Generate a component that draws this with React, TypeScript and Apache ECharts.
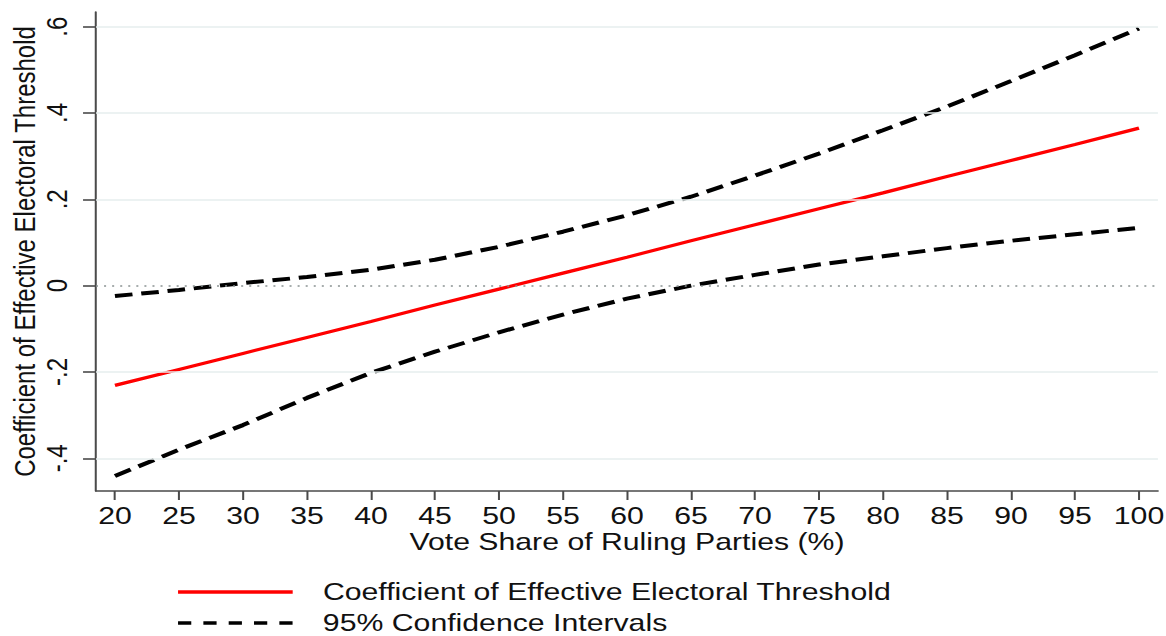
import React, { useEffect, useRef } from "react";
import * as echarts from "echarts";

// Vote share of ruling parties (%)
const voteShare = [20, 25, 30, 35, 40, 45, 50, 55, 60, 65, 70, 75, 80, 85, 90, 95, 100];
// Marginal effect (coefficient of effective electoral threshold)
const coefficient = [-0.231, -0.194, -0.157, -0.12, -0.083, -0.045, -0.008, 0.029, 0.066, 0.104, 0.141, 0.178, 0.215, 0.253, 0.29, 0.327, 0.365];
// 95% confidence bounds
const upperCI = [-0.024, -0.01, 0.006, 0.02, 0.037, 0.06, 0.09, 0.125, 0.163, 0.206, 0.255, 0.306, 0.36, 0.415, 0.474, 0.534, 0.596];
const lowerCI = [-0.441, -0.38, -0.323, -0.26, -0.202, -0.153, -0.108, -0.067, -0.03, 0.0, 0.025, 0.049, 0.068, 0.087, 0.104, 0.119, 0.134];

const xTicks = [20, 25, 30, 35, 40, 45, 50, 55, 60, 65, 70, 75, 80, 85, 90, 95, 100];
const yTicks = [-0.4, -0.2, 0, 0.2, 0.4, 0.6];
const gridValues = [-0.4, -0.2, 0.2, 0.4, 0.6];
const referenceValue = 0;

const COEF_NAME = "Coefficient of Effective Electoral Threshold";
const CI_NAME = "95% Confidence Intervals";

const STRETCH = 1.26;
const W = 925;
const H = 636;

const SOLID_ICON = "path://M0,0h91v3.5H0z";
const DASH_ICON =
  "path://M0,0h10.5v3.5h-10.5z M20.1,0h10.5v3.5h-10.5z M40.2,0h10.5v3.5h-10.5z M60.3,0h10.5v3.5h-10.5z M80.4,0h10.5v3.5h-10.5z";

export default function App() {
  const ref = useRef<HTMLDivElement>(null);

  useEffect(() => {
    if (!ref.current) return;
    const chart = echarts.init(ref.current, null, { renderer: "svg" });
    const font = '"Liberation Sans", Arial, Helvetica, sans-serif';
    const axisColor = "#4a4a4a";
    const pair = (ys: number[]) => voteShare.map((x, i) => [x, ys[i]]);
    const legendBase = {
      orient: "horizontal",
      left: 141.3,
      padding: 0,
      itemWidth: 91,
      itemHeight: 3.5,
      selectedMode: false,
      textStyle: { fontSize: 24, color: "#111", fontFamily: font, padding: [0, 0, 0, 19], lineHeight: 20 },
    };

    chart.setOption({
      animation: false,
      backgroundColor: "#ffffff",
      textStyle: { fontFamily: font },
      grid: { left: 76.2, right: 6, top: 12, bottom: 145, containLabel: false, outerBoundsMode: "none" },
      xAxis: {
        type: "value",
        min: 18.52,
        max: 101.48,
        name: "Vote Share of Ruling Parties (%)",
        nameLocation: "middle",
        nameGap: 39,
        nameMoveOverlap: false,
        nameTextStyle: { fontSize: 24, color: "#111", fontFamily: font },
        axisLine: { show: true, onZero: false, lineStyle: { color: axisColor, width: 1.6 } },
        axisTick: { show: true, length: 9, customValues: xTicks, lineStyle: { color: axisColor, width: 1.6 } },
        axisLabel: { customValues: xTicks, margin: 13, fontSize: 24, color: "#111", fontFamily: font },
        splitLine: { show: false },
      },
      yAxis: {
        type: "value",
        min: -0.4757,
        max: 0.634,
        name: COEF_NAME,
        nameLocation: "middle",
        nameGap: 45,
        nameRotate: 90,
        nameMoveOverlap: false,
        nameTextStyle: { fontSize: 24, color: "#111", fontFamily: font },
        axisLine: { show: true, onZero: false, lineStyle: { color: axisColor, width: 1.6 } },
        axisTick: { show: true, length: 10.3, customValues: yTicks, lineStyle: { color: axisColor, width: 1.6 } },
        axisLabel: {
          customValues: yTicks,
          rotate: 90,
          margin: 19,
          fontSize: 24,
          color: "#111",
          fontFamily: font,
          formatter: (v: number) => {
            if (Math.abs(v) < 1e-9) return "0";
            const s = v.toFixed(1);
            return s.replace("0.", ".");
          },
        },
        splitLine: { show: false },
      },
      legend: [
        {
          ...legendBase,
          top: 580,
          data: [{ name: COEF_NAME, icon: SOLID_ICON, itemStyle: { color: "#ff0000" } }],
        },
        {
          ...legendBase,
          top: 611,
          data: [{ name: CI_NAME, icon: DASH_ICON, itemStyle: { color: "#000000" } }],
        },
      ],
      series: [
        {
          type: "line",
          name: "reference",
          data: [],
          silent: true,
          markLine: {
            silent: true,
            symbol: ["none", "none"],
            label: { show: false },
            lineStyle: { color: "#e6eeee", width: 1.5, type: "solid" },
            data: [
              ...gridValues.map((v) => ({ yAxis: v })),
              { yAxis: referenceValue, lineStyle: { color: "#8a9292", width: 1.6, type: [1.6, 4.8] } },
            ],
          },
        },
        {
          type: "line",
          name: COEF_NAME,
          data: pair(coefficient),
          symbol: "none",
          lineStyle: { color: "#ff0000", width: 3.2 },
          itemStyle: { color: "#ff0000" },
        },
        {
          type: "line",
          name: CI_NAME,
          data: pair(upperCI),
          symbol: "none",
          lineStyle: { color: "#000000", width: 4, type: [14, 7] },
          itemStyle: { color: "#000000" },
        },
        {
          type: "line",
          name: CI_NAME,
          data: pair(lowerCI),
          symbol: "none",
          lineStyle: { color: "#000000", width: 4, type: [14, 7] },
          itemStyle: { color: "#000000" },
        },
      ],
    });

    return () => chart.dispose();
  }, []);

  return (
    <div
      style={{
        position: "fixed",
        left: 0,
        top: 0,
        width: W,
        height: H,
        transform: `scaleX(${STRETCH})`,
        transformOrigin: "0 0",
        background: "#fff",
      }}
    >
      <div ref={ref} style={{ width: W, height: H }} />
    </div>
  );
}
